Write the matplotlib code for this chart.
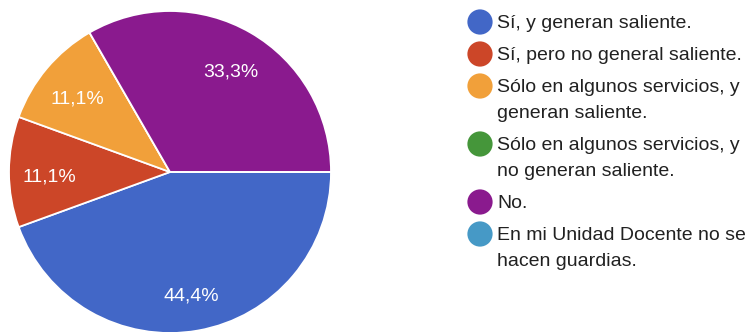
import matplotlib.pyplot as plt

# responses per option (9 in total)
labels = [
    "Sí, y generan saliente.",
    "Sí, pero no general saliente.",
    "Sólo en algunos servicios, y\ngeneran saliente.",
    "Sólo en algunos servicios, y\nno generan saliente.",
    "No.",
    "En mi Unidad Docente no se\nhacen guardias.",
]
counts = [4, 1, 1, 0, 3, 0]
colors = ["#4267c7", "#cc4628", "#f1a03a", "#45963a", "#8a1a8e", "#4699c6"]

plt.rcParams['font.family'] = ['Liberation Sans', 'DejaVu Sans']

fig = plt.figure(figsize=(7.5, 3.33), dpi=100)

# pie: centre at (170, 172) px, radius 161 px
W, H = 750, 333
cx, cy, r = 170, 172, 161
ax = fig.add_axes([(cx - r) / W, (H - cy - r) / H, 2 * r / W, 2 * r / H])


def fmt(p):
    return ("%.1f%%" % p).replace(".", ",") if p > 0 else ""


wedges, texts, autotexts = ax.pie(
    counts, colors=colors, startangle=0, counterclock=False,
    autopct=fmt, pctdistance=0.75,
    wedgeprops=dict(edgecolor="white", linewidth=1.3),
    textprops=dict(color="white", fontsize=14),
)
# nudge percentage labels slightly down
for t in autotexts:
    x, y = t.get_position()
    t.set_position((x, y - 0.03))

ax.set_xlim(-1, 1)
ax.set_ylim(-1, 1)
ax.set_aspect("equal")
ax.axis("off")

# legend drawn in pixel coordinates
lax = fig.add_axes([0, 0, 1, 1], facecolor="none")
lax.set_xlim(0, W)
lax.set_ylim(H, 0)
lax.axis("off")

y = 22
for lab, col in zip(labels, colors):
    lax.scatter([480], [y], s=330, color=col, edgecolors="none")
    lines = lab.split("\n")
    for i, line in enumerate(lines):
        lax.text(497, y + 2 + i * 26, line, fontsize=14, color="#212121",
                 va="center", ha="left")
    y += 26 * (len(lines) - 1) + 32

fig.savefig("out.png", dpi=100)
